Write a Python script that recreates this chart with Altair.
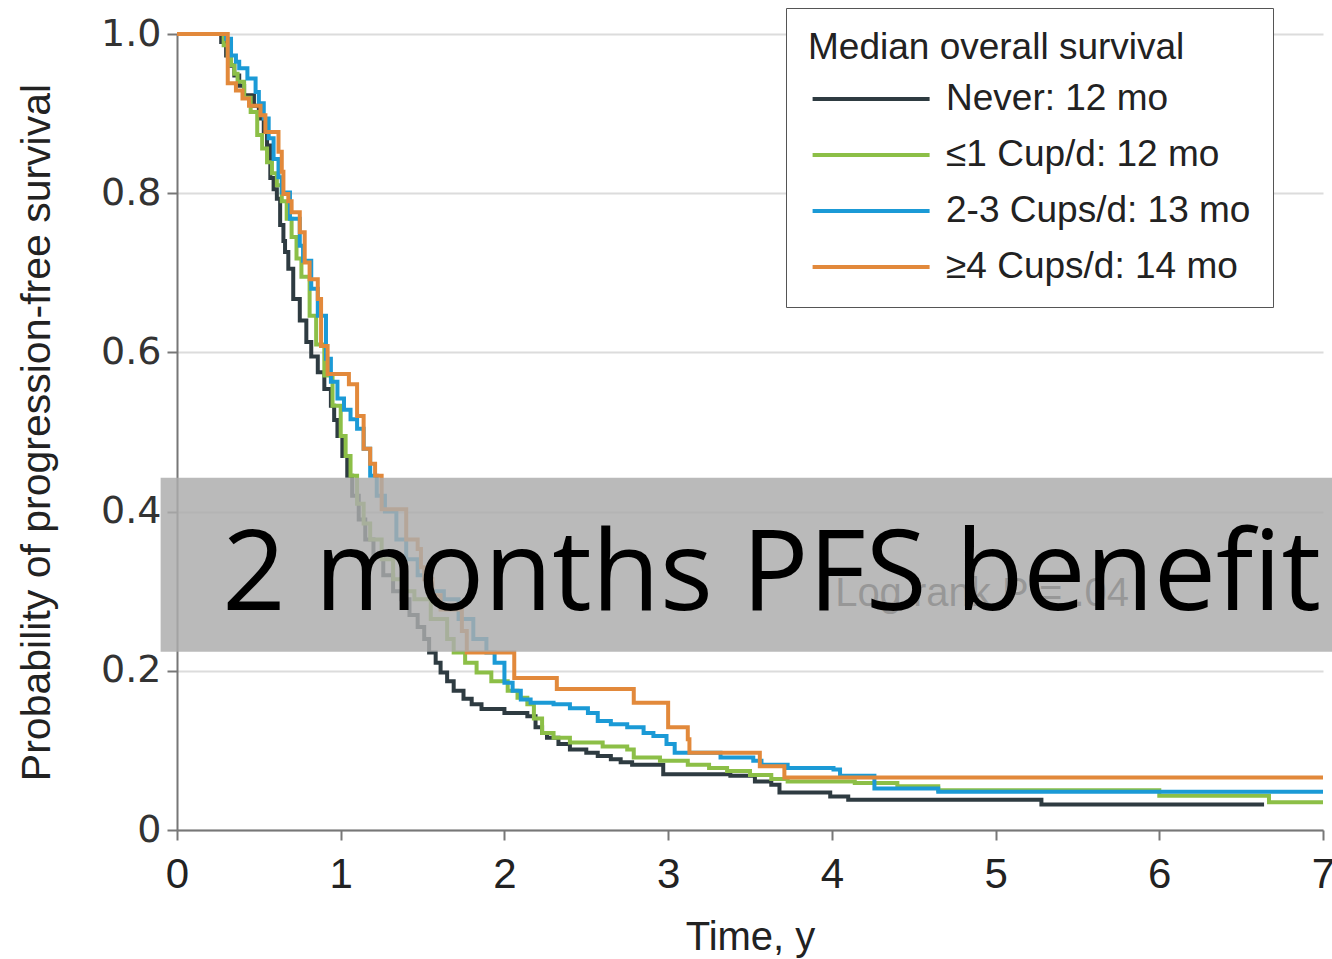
import altair as alt
import pandas as pd

# Group labels (legend text) and line colours
LABELS = ["Never: 12 mo", "≤1 Cup/d: 12 mo", "2-3 Cups/d: 13 mo", "≥4 Cups/d: 14 mo"]
COLORS = ["#2e3b41", "#8cbf47", "#1b9ad6", "#e2893b"]

# Kaplan-Meier step points (time in years, survival probability)
never_t = [0, 0.27, 0.30, 0.33, 0.35, 0.38, 0.41, 0.47, 0.50, 0.53, 0.55, 0.57, 0.59, 0.61, 0.63,
           0.65, 0.66, 0.68, 0.71, 0.75, 0.79, 0.82, 0.86, 0.90, 0.94, 0.96, 0.98, 1.01, 1.04, 1.07,
           1.11, 1.15, 1.20, 1.26, 1.32, 1.37, 1.42, 1.47, 1.51, 1.54, 1.58, 1.61, 1.65, 1.69, 1.75,
           1.80, 1.86, 2.00, 2.14, 2.19, 2.23, 2.26, 2.33, 2.40, 2.50, 2.57, 2.65, 2.71, 2.78, 2.97,
           3.38, 3.53, 3.63, 3.68, 3.99, 4.10, 5.28, 6.64]
never_s = [1.0, 0.99, 0.973, 0.96, 0.948, 0.935, 0.923, 0.91, 0.894, 0.877, 0.86, 0.819, 0.805, 0.793, 0.76,
           0.74, 0.726, 0.705, 0.667, 0.64, 0.613, 0.595, 0.575, 0.554, 0.533, 0.515, 0.495, 0.47, 0.445, 0.42,
           0.39, 0.365, 0.345, 0.32, 0.30, 0.29, 0.27, 0.255, 0.24, 0.223, 0.21, 0.198, 0.187, 0.175, 0.165,
           0.158, 0.152, 0.147, 0.143, 0.129, 0.122, 0.116, 0.108, 0.101, 0.097, 0.093, 0.089, 0.085, 0.082, 0.07,
           0.068, 0.061, 0.057, 0.047, 0.042, 0.038, 0.032, 0.032]

cup1_t = [0, 0.285, 0.31, 0.33, 0.35, 0.37, 0.41, 0.45, 0.49, 0.52, 0.55, 0.58, 0.61, 0.64, 0.67,
          0.70, 0.73, 0.76, 0.81, 0.85, 0.90, 0.95, 1.00, 1.03, 1.06, 1.10, 1.14, 1.18, 1.25, 1.32,
          1.40, 1.45, 1.55, 1.65, 1.69, 1.76, 1.83, 1.92, 2.02, 2.08, 2.14, 2.18, 2.23, 2.30, 2.40,
          2.60, 2.75, 2.79, 2.95, 3.12, 3.25, 3.36, 3.50, 3.63, 3.73, 4.14, 4.40, 4.65, 6.00, 6.67, 7.00]
cup1_s = [1.0, 0.986, 0.973, 0.961, 0.95, 0.94, 0.92, 0.902, 0.873, 0.856, 0.839, 0.825, 0.81, 0.79, 0.768,
          0.745, 0.718, 0.695, 0.646, 0.61, 0.571, 0.533, 0.495, 0.47, 0.445, 0.41, 0.385, 0.365, 0.34, 0.315,
          0.30, 0.29, 0.265, 0.24, 0.223, 0.21, 0.198, 0.187, 0.175, 0.166, 0.158, 0.14, 0.122, 0.116, 0.11,
          0.105, 0.101, 0.091, 0.087, 0.082, 0.078, 0.074, 0.069, 0.064, 0.061, 0.059, 0.055, 0.05, 0.043, 0.035, 0.035]

cup23_t = [0, 0.30, 0.33, 0.36, 0.38, 0.43, 0.48, 0.50, 0.53, 0.56, 0.59, 0.62, 0.64, 0.69, 0.75,
           0.77, 0.82, 0.86, 0.91, 0.94, 0.98, 1.02, 1.06, 1.10, 1.14, 1.18, 1.22, 1.27, 1.34, 1.40,
           1.47, 1.55, 1.63, 1.72, 1.81, 1.89, 1.94, 2.00, 2.05, 2.10, 2.16, 2.30, 2.40, 2.51, 2.57,
           2.65, 2.75, 2.85, 2.91, 2.99, 3.04, 3.32, 3.52, 3.57, 3.73, 4.01, 4.05, 4.26, 4.65, 7.00]
cup23_s = [1.0, 0.994, 0.973, 0.965, 0.957, 0.944, 0.927, 0.913, 0.894, 0.869, 0.843, 0.82, 0.801, 0.768, 0.734,
           0.715, 0.68, 0.646, 0.592, 0.563, 0.542, 0.528, 0.516, 0.504, 0.479, 0.445, 0.42, 0.40, 0.365, 0.34,
           0.32, 0.30, 0.29, 0.265, 0.24, 0.223, 0.21, 0.185, 0.175, 0.164, 0.16, 0.158, 0.153, 0.147, 0.137,
           0.133, 0.129, 0.122, 0.118, 0.108, 0.097, 0.091, 0.087, 0.082, 0.078, 0.076, 0.068, 0.052, 0.048, 0.048]

cup4_t = [0, 0.31, 0.36, 0.40, 0.44, 0.51, 0.54, 0.62, 0.64, 0.65, 0.68, 0.70, 0.75, 0.78, 0.81,
          0.86, 0.88, 0.92, 1.05, 1.10, 1.14, 1.18, 1.21, 1.25, 1.40, 1.47, 1.49, 1.51, 1.56, 1.61,
          1.74, 1.77, 2.06, 2.32, 2.79, 3.00, 3.12, 3.13, 3.56, 3.71, 7.00]
cup4_s = [1.0, 0.938, 0.929, 0.919, 0.91, 0.898, 0.877, 0.852, 0.827, 0.799, 0.79, 0.776, 0.751, 0.713, 0.692,
          0.667, 0.608, 0.573, 0.56, 0.52, 0.479, 0.46, 0.445, 0.403, 0.365, 0.353, 0.33, 0.315, 0.295, 0.277,
          0.25, 0.223, 0.191, 0.177, 0.16, 0.129, 0.114, 0.097, 0.08, 0.066, 0.066]

Y_TICKS = [0, 0.2, 0.4, 0.6, 0.8, 1.0]
X_TICKS = [0, 1, 2, 3, 4, 5, 6, 7]

SANS = "Liberation Sans, Arial, sans-serif"
X_TITLE = "Time, y"
Y_TITLE = "Probability of progression-free survival"

rows = []
for label, ts, ss in zip(LABELS, [never_t, cup1_t, cup23_t, cup4_t],
                         [never_s, cup1_s, cup23_s, cup4_s]):
    for i, (t, s) in enumerate(zip(ts, ss)):
        rows.append({"group": label, "t": t, "s": s, "i": i})
curves = pd.DataFrame(rows)

x_scale = alt.Scale(domain=[0, 7], nice=False, zero=False)
y_scale = alt.Scale(domain=[0, 1], nice=False, zero=False)

x_axis = alt.Axis(values=X_TICKS, grid=False, labelFont=SANS, labelFontSize=42, labelColor="#222",
                  labelFlush=False, tickSize=10, tickWidth=2, tickColor="#777",
                  domainColor="#777", domainWidth=2, labelPadding=14,
                  titleFont=SANS, titleFontSize=40, titleFontWeight="normal",
                  titleColor="#222", titlePadding=22)
y_axis = alt.Axis(values=Y_TICKS, labelExpr="datum.value == 0 ? '0' : format(datum.value, '.1f')",
                  labelFont="DejaVu Sans", labelFontSize=38, labelColor="#333", labelFlush=False,
                  tickSize=10, tickWidth=2, tickColor="#777", domainColor="#777", domainWidth=2,
                  grid=True, gridColor="#dcdcdc", gridWidth=2, labelPadding=6,
                  titleFont=SANS, titleFontSize=41, titleFontWeight="normal", titleColor="#222",
                  titlePadding=42)


def xenc():
    return alt.X("t:Q", scale=x_scale, axis=x_axis, title=X_TITLE)


def yenc():
    return alt.Y("s:Q", scale=y_scale, axis=y_axis, title=Y_TITLE)


# Legend swatch: a long horizontal stroke drawn as a custom symbol path,
# offset to the right of the symbol anchor so it starts under the title
SWATCH_PATH = "M-0.9,0H3.6"

lines = alt.Chart(curves).mark_line(interpolate="step-after", strokeWidth=4).encode(
    x=xenc(),
    y=yenc(),
    order="i:Q",
    color=alt.Color(
        "group:N",
        scale=alt.Scale(domain=LABELS, range=COLORS),
        legend=alt.Legend(
            orient="none", legendX=609, legendY=-26,
            title="Median overall survival",
            titleFont=SANS, titleFontSize=37, titleFontWeight="normal", titleColor="#222",
            titleLimit=600, titlePadding=4,
            labelFont=SANS, labelFontSize=37, labelColor="#222", labelLimit=600, labelOffset=82,
            symbolType=SWATCH_PATH, symbolSize=2704, symbolStrokeWidth=4,
            rowPadding=10, padding=22, strokeColor="#555", fillColor="white",
        ),
    ),
)

# Log-rank annotation (sits under the grey banner)
logrank = alt.Chart(pd.DataFrame({"t": [4.02], "s": [0.281], "txt": ["Log rank P = .04"]})).mark_text(
    align="left", baseline="alphabetic", font=SANS, fontSize=40, color="#333"
).encode(x=xenc(), y=yenc(), text="txt:N")

# Grey banner
band = alt.Chart(pd.DataFrame({"t": [-0.10], "t2": [7.06], "s": [0.4426], "s2": [0.224]})).mark_rect(
    color="#acacac", opacity=0.83
).encode(x=xenc(), x2="t2:Q", y=yenc(), y2="s2:Q")

headline = alt.Chart(pd.DataFrame({"t": [0.277], "s": [0.277], "txt": ["2 months PFS benefit"]})).mark_text(
    align="left", baseline="alphabetic", font="Open Sans", fontSize=111, color="#000"
).encode(x=xenc(), y=yenc(), text="txt:N")

chart = alt.layer(lines, logrank, band, headline).properties(
    width=1146, height=796,
    autosize=alt.AutoSizeParams(type="none"),
    padding={"left": 177, "top": 34, "right": 9, "bottom": 129},
    background="white",
).configure_view(strokeWidth=0)

chart.save("out.html", embed_options={"renderer": "svg", "actions": False})
